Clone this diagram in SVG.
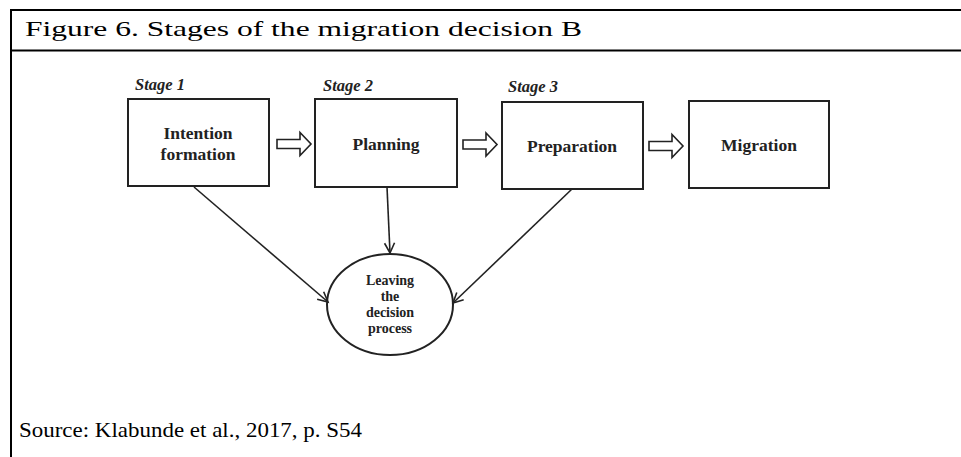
<svg xmlns="http://www.w3.org/2000/svg" width="961" height="457" viewBox="0 0 961 457">
<style>
.frame{stroke:#000;stroke-width:2;fill:none}
.box{fill:#fff;stroke:#222;stroke-width:2}
.lbl{font-family:"Liberation Serif",serif;font-weight:bold;font-size:17.5px;fill:#222;text-anchor:middle}
.stage{font-family:"Liberation Serif",serif;font-weight:bold;font-style:italic;font-size:16.5px;fill:#222}
.ell{font-family:"Liberation Serif",serif;font-weight:bold;font-size:14px;fill:#222;text-anchor:middle}
.cap{font-family:"Liberation Serif",serif;font-size:22px;fill:#000}
.conn{stroke:#222;stroke-width:1.6;fill:none}
.blk{fill:#fff;stroke:#222;stroke-width:1.6;stroke-linejoin:miter}
</style>
<defs>
<marker id="open" markerUnits="userSpaceOnUse" markerWidth="14" markerHeight="14" refX="11" refY="6" orient="auto">
<path d="M1,1 L11,6 L1,11" fill="none" stroke="#222" stroke-width="1.6"/>
</marker>
<path id="blockArrow" d="M0,-4.5 H23 V-11.5 L34,0 L23,11.5 V4.5 H0 Z"/>
</defs>
<g id="frame">
<line class="frame" x1="11" y1="10" x2="961" y2="10"/>
<line class="frame" x1="11" y1="50.5" x2="961" y2="50.5"/>
<line class="frame" x1="11" y1="9" x2="11" y2="457"/>
<text class="cap" x="25" y="36" textLength="557" lengthAdjust="spacingAndGlyphs">Figure 6. Stages of the migration decision B</text>
<text class="cap" x="19" y="437" font-size="20" textLength="343" lengthAdjust="spacingAndGlyphs">Source: Klabunde et al., 2017, p. S54</text>
</g>
<g id="stage1">
<text class="stage" x="135" y="90">Stage 1</text>
<rect class="box" x="128" y="99" width="141" height="87"/>
<text class="lbl" x="198" y="139">Intention</text>
<text class="lbl" x="198" y="160">formation</text>
</g>
<g id="stage2">
<text class="stage" x="323" y="91">Stage 2</text>
<rect class="box" x="315" y="99" width="142" height="88"/>
<text class="lbl" x="386" y="150">Planning</text>
</g>
<g id="stage3">
<text class="stage" x="508" y="92">Stage 3</text>
<rect class="box" x="502" y="102" width="141" height="87"/>
<text class="lbl" x="572" y="152">Preparation</text>
</g>
<g id="migration">
<rect class="box" x="689" y="101" width="140" height="87"/>
<text class="lbl" x="759" y="151">Migration</text>
</g>
<g id="leaving">
<ellipse class="box" cx="390" cy="304.5" rx="63" ry="50.5"/>
<text class="ell" x="390" y="285">Leaving</text>
<text class="ell" x="390" y="301">the</text>
<text class="ell" x="390" y="317">decision</text>
<text class="ell" x="390" y="333">process</text>
</g>
<g id="connectors">
<use href="#blockArrow" class="blk" transform="translate(277,144)"/>
<use href="#blockArrow" class="blk" transform="translate(463,144.5)"/>
<use href="#blockArrow" class="blk" transform="translate(649,146)"/>
<line class="conn" x1="194" y1="187" x2="328" y2="302" marker-end="url(#open)"/>
<line class="conn" x1="387" y1="187" x2="390" y2="253" marker-end="url(#open)"/>
<line class="conn" x1="572" y1="189" x2="453" y2="303" marker-end="url(#open)"/>
</g>
</svg>
